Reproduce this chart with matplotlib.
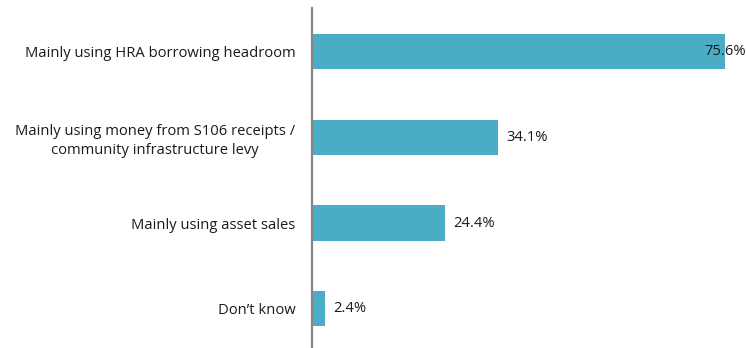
import matplotlib
matplotlib.use("Agg")
import matplotlib.pyplot as plt

categories = [
    "Mainly using HRA borrowing headroom",
    "Mainly using money from S106 receipts /\ncommunity infrastructure levy",
    "Mainly using asset sales",
    "Don\u2019t know",
]
values = [75.6, 34.1, 24.4, 2.4]
value_labels = ["75.6%", "34.1%", "24.4%", "2.4%"]

plt.rcParams["font.family"] = ["Open Sans", "DejaVu Sans"]

fig = plt.figure(figsize=(7.46, 3.48), dpi=100)
ax = fig.add_axes([312 / 746, 0, (746 - 312) / 746, (348 - 8) / 348])

pos = list(range(len(categories)))
ax.barh(pos, values, height=0.41, color="#4BACC6")

xmax = 79.44
ax.set_xlim(0, xmax)
ax.set_ylim(3.456, -0.507)

fs = 10.6
for p, v, lab in zip(pos, values, value_labels):
    if v > 70:
        ax.text(xmax, p, lab, ha="right", va="center", fontsize=fs, color="#1a1a1a")
    else:
        ax.annotate(lab, (v, p), xytext=(6, 0), textcoords="offset points",
                    ha="left", va="center", fontsize=fs, color="#1a1a1a")

ax.set_yticks(pos)
ax.set_yticklabels(categories, fontsize=fs, color="#1a1a1a",
                   multialignment="center", linespacing=1.35)
ax.tick_params(axis="y", length=0, pad=12)
ax.set_xticks([])

for s in ["top", "right", "bottom"]:
    ax.spines[s].set_visible(False)
ax.spines["left"].set_color("#868686")
ax.spines["left"].set_linewidth(1.6)

fig.savefig("out.png", dpi=100)
